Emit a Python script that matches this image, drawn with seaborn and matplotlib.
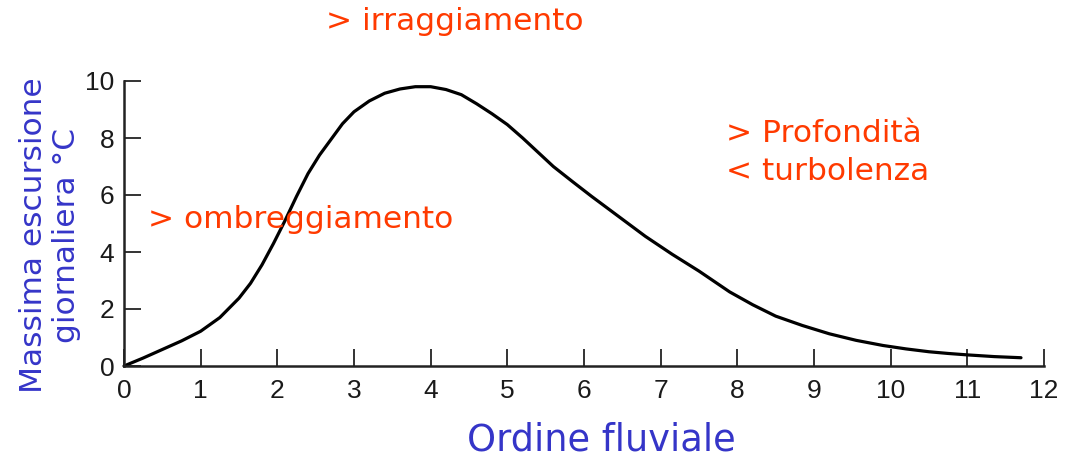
import matplotlib
matplotlib.use("Agg")
import matplotlib.pyplot as plt
import seaborn as sns
import pandas as pd

# Maximum daily temperature excursion along the river continuum
stream_order = [0.0, 0.25, 0.5, 0.75, 1.0, 1.25, 1.5, 1.65, 1.8, 1.95, 2.1, 2.25, 2.4, 2.55,
                2.7, 2.85, 3.0, 3.2, 3.4, 3.6, 3.8, 4.0, 4.2, 4.4, 4.6, 4.8, 5.0, 5.2, 5.4,
                5.6, 5.85, 6.1, 6.45, 6.8, 7.15, 7.5, 7.9, 8.2, 8.5, 8.85, 9.2, 9.55, 9.9,
                10.2, 10.5, 10.75, 11.0, 11.35, 11.7]
max_excursion = [0.0, 0.28, 0.58, 0.88, 1.22, 1.7, 2.38, 2.9, 3.55, 4.3, 5.1, 5.95, 6.75, 7.4,
                 7.95, 8.5, 8.92, 9.3, 9.57, 9.72, 9.8, 9.8, 9.7, 9.52, 9.2, 8.85, 8.47, 8.0,
                 7.5, 7.0, 6.47, 5.95, 5.25, 4.55, 3.92, 3.33, 2.6, 2.15, 1.75, 1.42, 1.13,
                 0.9, 0.72, 0.6, 0.5, 0.44, 0.39, 0.33, 0.29]

x_ticks = [0, 1, 2, 3, 4, 5, 6, 7, 8, 9, 10, 11, 12]
y_ticks = [0, 2, 4, 6, 8, 10]

x_label = "Ordine fluviale"
y_label = "Massima escursione\ngiornaliera °C"
notes = ["> irraggiamento", "> ombreggiamento", "> Profondità", "< turbolenza"]

sns.set_theme(style="ticks")
plt.rcParams["font.family"] = ["DejaVu Sans"]

W, H = 1068, 458
fig = plt.figure(figsize=(W / 100, H / 100), dpi=100)
ax = fig.add_axes([124 / W, (H - 366) / H, 920 / W, 285 / H])

df = pd.DataFrame({"order": stream_order, "excursion": max_excursion})
sns.lineplot(data=df, x="order", y="excursion", ax=ax, color="black",
             linewidth=2.3, clip_on=False)

ax.set_xlim(0, 12)
ax.set_ylim(0, 10)
ax.set_xticks(x_ticks)
ax.set_yticks(y_ticks)
ax.set_xlabel("")
ax.set_ylabel("")
sns.despine(ax=ax)
for side in ("left", "bottom"):
    ax.spines[side].set_linewidth(1.8)
    ax.spines[side].set_color("#222222")

ax.tick_params(axis="both", direction="in", length=12, width=1.4, color="#333333",
               labelcolor="#1a1a1a", labelsize=19, labelfontfamily="Liberation Sans")
ax.tick_params(axis="x", pad=9)
ax.tick_params(axis="y", pad=7)

orange = "#FF3A00"
blue = "#3535C8"
fs = 22.5

fig.text(455 / W, 1 - 22 / H, notes[0], color=orange, fontsize=fs, ha="center", va="center")
fig.text(148 / W, 1 - 219 / H, notes[1], color=orange, fontsize=fs, ha="left", va="center")
fig.text(726 / W, 1 - 134 / H, notes[2], color=orange, fontsize=fs, ha="left", va="center")
fig.text(726 / W, 1 - 171 / H, notes[3], color=orange, fontsize=fs, ha="left", va="center")

fig.text(601 / W, 1 - 440 / H, x_label, color=blue, fontsize=26.5, ha="center", va="center")
fig.text(50 / W, 1 - 235 / H, y_label, color=blue, fontsize=fs, ha="center", va="center",
         rotation=90, multialignment="center")

fig.savefig("out.png", dpi=100, facecolor="white")
